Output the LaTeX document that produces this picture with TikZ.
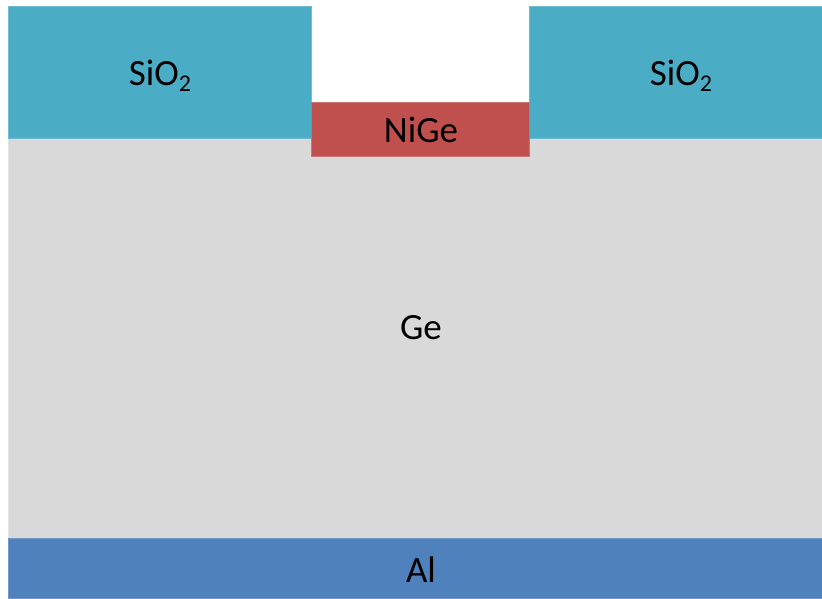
\documentclass[tikz,border=0pt]{standalone}
\usepackage{fontspec}
\setmainfont{Carlito}
\definecolor{oxide}{HTML}{4BACC6}
\definecolor{oxideedge}{HTML}{6FBCD2}
\definecolor{silicide}{HTML}{C0504D}
\definecolor{silicideedge}{HTML}{CD7370}
\definecolor{germanium}{HTML}{D9D9D9}
\definecolor{germaniumedge}{HTML}{E4E4E4}
\definecolor{metal}{HTML}{4F81BD}
\definecolor{metaledge}{HTML}{7298C8}
\tikzset{
  layer/.style={line width=0.8pt, inner sep=0pt, outer sep=0pt},
  lbl/.style={font=\fontsize{37}{42}\selectfont, text=black, inner sep=0pt},
}
\newcommand{\lowsub}[1]{\raisebox{-0.32ex}{\fontsize{24}{26}\selectfont #1}}
\begin{document}
\begin{tikzpicture}[x=1pt,y=-1pt]
  \useasboundingbox (0,0) rectangle (822,599);
  % germanium substrate
  \filldraw[layer, fill=germanium, draw=germaniumedge] (8,138) rectangle (822,538);
  % oxide openings on either side of the contact window
  \filldraw[layer, fill=oxide, draw=oxideedge] (8,6) rectangle (311.5,138);
  \filldraw[layer, fill=oxide, draw=oxideedge] (529.5,6) rectangle (822,138);
  % nickel germanide contact
  \filldraw[layer, fill=silicide, draw=silicideedge] (311.5,102) rectangle (529.5,156);
  % back contact
  \filldraw[layer, fill=metal, draw=metaledge] (8,538) rectangle (822,598.5);
  % labels
  \node[lbl] (oxL) at (160,76) {SiO\lowsub{2}};
  \node[lbl] (oxR) at (681,76) {SiO\lowsub{2}};
  \node[lbl] (nige) at (421,130) {NiGe};
  \node[lbl] (ge) at (421,328) {Ge};
  \node[lbl] (al) at (421,570) {Al};
\end{tikzpicture}
\end{document}
